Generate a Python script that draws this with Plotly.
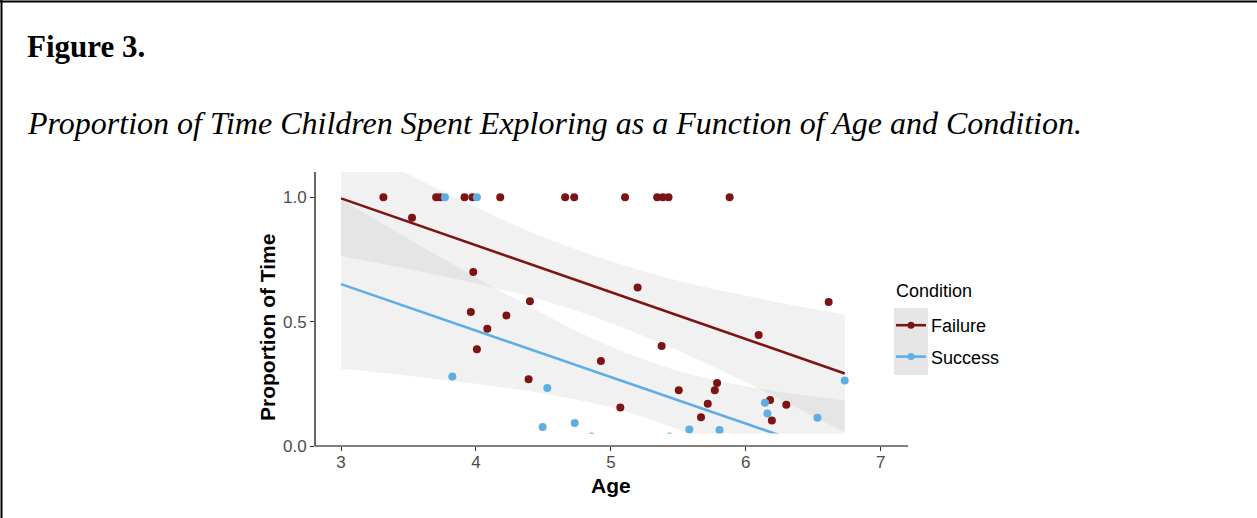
import plotly.graph_objects as go

# ---------------- data ----------------
fail_age = [3.314, 3.526, 3.705, 3.735, 3.915, 3.974, 4.18, 4.661, 4.728, 5.105,
            5.343, 5.385, 5.427, 5.88, 3.98, 3.962, 4.226, 4.084, 4.007, 4.40,
            4.39, 5.198, 5.376, 4.926, 5.07, 5.503, 5.787, 5.77, 5.718, 5.668,
            6.614, 6.095, 6.18, 6.30, 6.193]
fail_prop = [1.0, 0.918, 1.0, 1.0, 1.0, 1.0, 1.0, 1.0, 1.0, 1.0,
             1.0, 1.0, 1.0, 1.0, 0.70, 0.539, 0.525, 0.472, 0.389, 0.582,
             0.268, 0.637, 0.402, 0.342, 0.155, 0.224, 0.253, 0.224, 0.170, 0.116,
             0.579, 0.446, 0.185, 0.166, 0.103]

succ_age = [3.77, 4.007, 3.825, 4.529, 4.494, 4.732, 4.856, 5.582, 5.805, 5.435,
            6.733, 6.142, 6.16, 6.531]
succ_prop = [1.0, 1.0, 0.280, 0.233, 0.076, 0.093, 0.038, 0.066, 0.064, 0.038,
             0.263, 0.174, 0.131, 0.114]

# fitted lines (end points)
fit_x = [3.0, 6.733]
fail_fit = [0.996, 0.292]
succ_fit = [0.651, -0.047]

# confidence bands read at these ages
band_x = [3.0, 3.5, 4.0, 4.5, 5.0, 5.5, 6.0, 6.5, 6.733]
fail_lo = [0.763, 0.712, 0.654, 0.585, 0.495, 0.383, 0.256, 0.121, 0.056]
fail_hi = [1.229, 1.092, 0.960, 0.841, 0.743, 0.665, 0.604, 0.551, 0.528]
succ_lo = [0.311, 0.283, 0.250, 0.211, 0.155, 0.066, -0.061, -0.207, -0.277]
succ_hi = [0.991, 0.833, 0.678, 0.531, 0.399, 0.302, 0.241, 0.199, 0.183]

conditions = ["Failure", "Success"]
x_ticks = [3, 4, 5, 6, 7]
y_ticks = [0.0, 0.5, 1.0]
y_tick_text = ["0.0", "0.5", "1.0"]

# ---------------- styling ----------------
RED = "#7d1414"
BLUE = "#5eaee6"
RIB = "rgba(153,153,153,0.14)"
SANS = "Liberation Sans, Arial, sans-serif"
SERIF = "Liberation Serif, Times New Roman, serif"

W, H = 1257, 518
L, R, T, B = 315, 349, 172, 72
PW, PH = W - L - R, H - T - B


def px(x):
    return (x - L) / PW


def py(y):
    return (H - B - y) / PH


fig = go.Figure()

for lo, hi in [(fail_lo, fail_hi), (succ_lo, succ_hi)]:
    fig.add_trace(go.Scatter(x=band_x, y=lo, mode="lines",
                             line=dict(width=0, shape="spline"),
                             showlegend=False, hoverinfo="skip"))
    fig.add_trace(go.Scatter(x=band_x, y=hi, mode="lines",
                             line=dict(width=0, shape="spline"),
                             fill="tonexty", fillcolor=RIB,
                             showlegend=False, hoverinfo="skip"))

fig.add_trace(go.Scatter(x=fit_x, y=fail_fit, mode="lines",
                         line=dict(color=RED, width=2.6), showlegend=False))
fig.add_trace(go.Scatter(x=fit_x, y=succ_fit, mode="lines",
                         line=dict(color=BLUE, width=2.6), showlegend=False))

fig.add_trace(go.Scatter(x=fail_age, y=fail_prop, mode="markers",
                         marker=dict(color=RED, size=8), showlegend=False))
fig.add_trace(go.Scatter(x=succ_age, y=succ_prop, mode="markers",
                         marker=dict(color=BLUE, size=8), showlegend=False))

# legend entries
for name, col in zip(conditions, [RED, BLUE]):
    fig.add_trace(go.Scatter(x=[None], y=[None], mode="lines+markers", name=name,
                             legendgroup=name,
                             line=dict(color=col, width=2.6),
                             marker=dict(color=col, size=7)))

shapes = [
    # panel clipping at the bottom
    dict(type="rect", xref="paper", yref="y", x0=0, x1=1, y0=-0.05, y1=0.05,
         fillcolor="white", line=dict(width=0), layer="above"),
    # axis lines
    dict(type="line", xref="paper", yref="paper", x0=0, x1=1, y0=0, y1=0,
         line=dict(color="black", width=1.2), layer="above"),
    dict(type="line", xref="paper", yref="paper", x0=0, x1=0, y0=0, y1=1,
         line=dict(color="black", width=1.2), layer="above"),
    # legend key background
    dict(type="rect", xref="paper", yref="paper", x0=px(894), x1=px(928),
         y0=py(375), y1=py(308), fillcolor="#e6e6e6", line=dict(width=0),
         layer="below"),
    # outer frame
    dict(type="line", xref="paper", yref="paper", x0=px(1.5), x1=px(1.5),
         y0=py(0), y1=py(H), line=dict(color="black", width=2)),
    dict(type="line", xref="paper", yref="paper", x0=px(0), x1=px(W),
         y0=py(1.5), y1=py(1.5), line=dict(color="black", width=2)),
]

annotations = [
    dict(text="<b>Figure 3.</b>", xref="paper", yref="paper", x=px(25), y=py(47),
         xanchor="left", yanchor="middle", showarrow=False,
         font=dict(family=SERIF, size=31, color="black")),
    dict(text="<i>Proportion of Time Children Spent Exploring as a Function of Age and Condition.</i>",
         xref="paper", yref="paper", x=px(25), y=py(123),
         xanchor="left", yanchor="middle", showarrow=False,
         font=dict(family=SERIF, size=32, color="black")),
    dict(text="<b>Age</b>", xref="paper", yref="paper", x=px(611), y=py(485),
         xanchor="center", yanchor="middle", showarrow=False,
         font=dict(family=SANS, size=21, color="black")),
    dict(text="<b>Proportion of Time</b>", xref="paper", yref="paper", x=px(267),
         y=py(328), xanchor="center", yanchor="middle", textangle=-90,
         showarrow=False, font=dict(family=SANS, size=21, color="black")),
    dict(text="Condition", xref="paper", yref="paper", x=px(894), y=py(291),
         xanchor="left", yanchor="middle", showarrow=False,
         font=dict(family=SANS, size=18, color="black")),
]

fig.update_layout(
    width=W, height=H,
    margin=dict(l=L, r=R, t=T, b=B, pad=0),
    paper_bgcolor="white", plot_bgcolor="white",
    shapes=shapes, annotations=annotations,
    legend=dict(
        font=dict(family=SANS, size=18, color="black"),
        x=px(891), y=py(307), xanchor="left", yanchor="top",
        bgcolor="rgba(0,0,0,0)", tracegroupgap=5, itemwidth=30,
    ),
    xaxis=dict(range=[2.807, 7.202], tickvals=x_ticks, ticks="outside", ticklen=4,
               tickcolor="#333333", showgrid=False, zeroline=False, showline=False,
               ticklabelstandoff=-3,
               tickfont=dict(family=SANS, size=17, color="#4d4d4d")),
    yaxis=dict(range=[0, 1.102], tickvals=y_ticks, ticktext=y_tick_text,
               ticks="outside", ticklen=4, tickcolor="#333333", showgrid=False,
               zeroline=False, showline=False,
               tickfont=dict(family=SANS, size=17, color="#4d4d4d")),
)

fig.write_html("out.html")
